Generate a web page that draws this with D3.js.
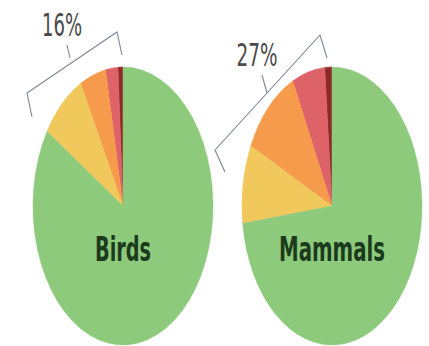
<!DOCTYPE html>
<html>
<head>
<meta charset="utf-8">
<script src="https://cdn.jsdelivr.net/npm/d3@7"></script>
<style>
  html, body { margin: 0; padding: 0; background: #ffffff; }
  svg { display: block; }
</style>
</head>
<body>
<svg id="chart" width="429" height="346"></svg>
<script>
// Share of species in each threat category (percent of assessed species)
const groups = ["Birds", "Mammals"];
const categories = ["Critically endangered", "Endangered", "Vulnerable", "Near threatened", "Least concern"];
const birdsValues = [0.9, 2.2, 4.7, 8.2, 84.0];
const mammalsValues = [1.3, 5.9, 10.7, 9.1, 73.0];
const threatenedLabels = ["16%", "27%"];

const colours = ["#8e2a2a", "#de6369", "#f69b4c", "#f0c85c", "#8dca7c"];

const width = 429, height = 346;
const rx = 90, ry = 139;
const centres = [[123, 206], [332, 206]];

// Bracket outline around the threatened wedge, relative to each pie centre:
// left tick end, left corner, right corner, right tick end; then middle tick.
const bracketPaths = [
  [[-91, -89], [-96, -113], [-6, -174], [-1, -151]],
  [[-107, -34], [-117, -56], [-12, -171], [-5, -148]]
];
const bracketTicks = [
  [[-53, -148], [-56, -161]],
  [[-65, -113], [-70, -131]]
];
const labelPos = [[-61, -170], [-75, -140]];
const labelWidth = [40, 41];
const nameWidth = [56, 106];

const condensed = "'Liberation Sans Narrow', 'DejaVu Sans Condensed', 'Liberation Sans', sans-serif";

const svg = d3.select("#chart");
const series = [birdsValues, mammalsValues];

const pie = d3.pie().sort(null).startAngle(0).endAngle(-2 * Math.PI);
const arc = d3.arc().innerRadius(0).outerRadius(rx);
const colour = d3.scaleOrdinal().domain(categories).range(colours);

groups.forEach((name, i) => {
  const [cx, cy] = centres[i];
  const g = svg.append("g").attr("transform", `translate(${cx},${cy})`);

  // Pie is drawn as a circle and stretched vertically into an ellipse
  const data = categories.map((c, k) => ({ category: c, value: series[i][k] }));
  g.append("g")
    .attr("transform", `scale(1, ${ry / rx})`)
    .selectAll("path")
    .data(pie.value(d => d.value)(data))
    .join("path")
    .attr("d", arc)
    .attr("fill", d => colour(d.data.category))
    .attr("stroke", d => colour(d.data.category))
    .attr("stroke-width", 0.4);

  // Bracket around the threatened categories
  const line = d3.line();
  g.append("path")
    .attr("d", line(bracketPaths[i]))
    .attr("fill", "none")
    .attr("stroke", "#7d8594")
    .attr("stroke-width", 1.1);
  g.append("path")
    .attr("d", line(bracketTicks[i]))
    .attr("fill", "none")
    .attr("stroke", "#7d8594")
    .attr("stroke-width", 1.1);

  g.append("text")
    .attr("transform", `translate(${labelPos[i][0]},${labelPos[i][1]}) scale(1,1.2)`)
    .attr("text-anchor", "middle")
    .attr("font-family", condensed)
    .attr("font-size", 26)
    .attr("fill", "#4a4a4a")
    .attr("textLength", labelWidth[i])
    .attr("lengthAdjust", "spacingAndGlyphs")
    .text(threatenedLabels[i]);

  // Group name, tall and narrow
  g.append("text")
    .attr("transform", "translate(0,55) scale(1,1.3)")
    .attr("text-anchor", "middle")
    .attr("font-family", condensed)
    .attr("font-weight", "bold")
    .attr("font-size", 26)
    .attr("fill", "#1c3a1c")
    .attr("textLength", nameWidth[i])
    .attr("lengthAdjust", "spacingAndGlyphs")
    .text(name);
});
</script>
</body>
</html>
